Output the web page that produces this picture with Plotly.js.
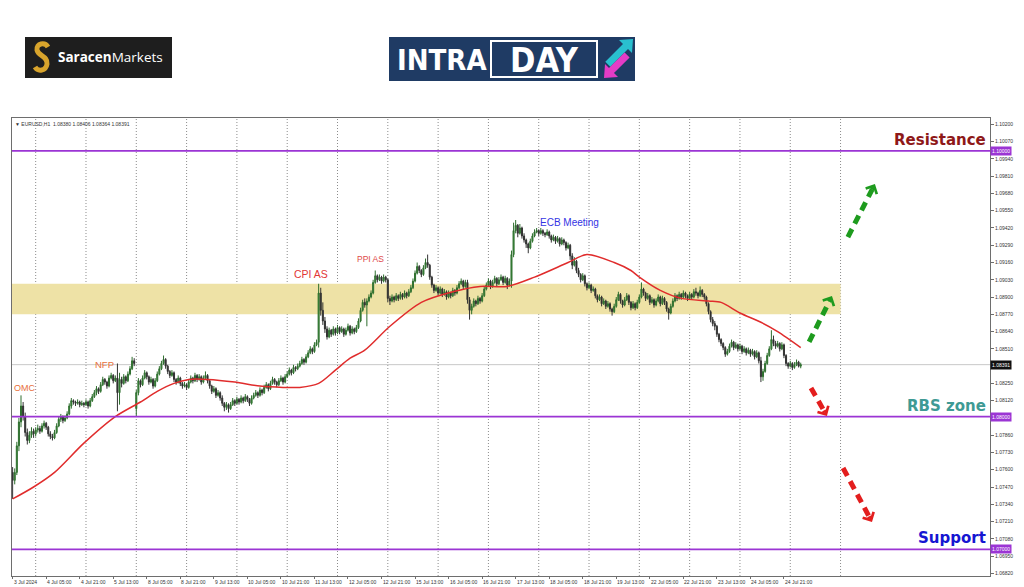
<!DOCTYPE html>
<html>
<head>
<meta charset="utf-8">
<script src="https://cdn.plot.ly/plotly-3.0.1.min.js"></script>
<style>html,body{margin:0;padding:0;background:#fff;}#chart{width:1024px;height:587px;}</style>
</head>
<body>
<div id="chart"></div>
<script>
// ---------- DATA (EURUSD H1) ----------
const OPEN = [
1.0758,1.0752,1.0758,1.0778,1.0796,1.0808,1.0800,1.0788,1.0782,1.0786,
1.0789,1.0787,1.0790,1.0791,1.0789,1.0793,1.0795,1.0792,1.0787,1.0785,
1.0784,1.0788,1.0793,1.0798,1.0800,1.0797,1.0799,1.0802,1.0808,1.0812,
1.0811,1.0810,1.0811,1.0809,1.0810,1.0809,1.0811,1.0808,1.0812,1.0815,
1.0818,1.0821,1.0819,1.0824,1.0828,1.0826,1.0823,1.0829,1.0831,1.0827,
1.0829,1.0818,1.0828,1.0825,1.0830,1.0827,1.0832,1.0836,1.0842,1.0806,
1.0818,1.0827,1.0824,1.0829,1.0833,1.0830,1.0826,1.0828,1.0823,1.0827,
1.0832,1.0836,1.0840,1.0843,1.0838,1.0834,1.0831,1.0833,1.0828,1.0826,
1.0829,1.0825,1.0823,1.0824,1.0822,1.0826,1.0829,1.0827,1.0831,1.0828,
1.0830,1.0826,1.0829,1.0831,1.0827,1.0823,1.0819,1.0821,1.0816,1.0818,
1.0814,1.0810,1.0807,1.0809,1.0806,1.0809,1.0812,1.0810,1.0813,1.0811,
1.0814,1.0812,1.0815,1.0813,1.0810,1.0814,1.0816,1.0818,1.0816,1.0820,
1.0818,1.0822,1.0824,1.0821,1.0825,1.0828,1.0826,1.0824,1.0827,1.0829,
1.0826,1.0830,1.0832,1.0835,1.0833,1.0837,1.0836,1.0838,1.0840,1.0843,
1.0841,1.0845,1.0848,1.0851,1.0849,1.0854,1.0856,1.0893,1.0880,1.0872,
1.0866,1.0860,1.0865,1.0862,1.0866,1.0863,1.0867,1.0864,1.0866,1.0862,
1.0865,1.0868,1.0863,1.0866,1.0864,1.0867,1.0872,1.0880,1.0886,1.0884,
1.0887,1.0890,1.0893,1.0901,1.0906,1.0903,1.0905,1.0902,1.0905,1.0903,
1.0889,1.0887,1.0890,1.0888,1.0891,1.0889,1.0892,1.0890,1.0893,1.0891,
1.0894,1.0897,1.0902,1.0908,1.0913,1.0910,1.0907,1.0912,1.0916,1.0914,
1.0905,1.0899,1.0895,1.0897,1.0893,1.0896,1.0892,1.0894,1.0890,1.0893,
1.0891,1.0895,1.0893,1.0897,1.0900,1.0902,1.0898,1.0901,1.0888,1.0880,
1.0883,1.0887,1.0885,1.0889,1.0887,1.0891,1.0896,1.0899,1.0902,1.0898,
1.0901,1.0904,1.0900,1.0903,1.0905,1.0901,1.0904,1.0899,1.0902,1.0922,
1.0940,1.0944,1.0938,1.0942,1.0936,1.0933,1.0930,1.0927,1.0932,1.0936,
1.0939,1.0940,1.0938,1.0940,1.0938,1.0937,1.0939,1.0936,1.0933,1.0935,
1.0932,1.0934,1.0930,1.0933,1.0931,1.0927,1.0929,1.0921,1.0914,1.0917,
1.0910,1.0907,1.0903,1.0906,1.0900,1.0897,1.0899,1.0895,1.0896,1.0891,
1.0888,1.0890,1.0885,1.0887,1.0883,1.0885,1.0881,1.0879,1.0883,1.0888,
1.0892,1.0887,1.0884,1.0888,1.0891,1.0886,1.0882,1.0885,1.0882,1.0886,
1.0890,1.0896,1.0893,1.0889,1.0891,1.0886,1.0888,1.0884,1.0887,1.0890,
1.0885,1.0889,1.0886,1.0881,1.0878,1.0883,1.0887,1.0891,1.0889,1.0892,
1.0890,1.0893,1.0891,1.0889,1.0892,1.0890,1.0894,1.0893,1.0891,1.0895,
1.0892,1.0890,1.0885,1.0879,1.0873,1.0870,1.0868,1.0862,1.0858,1.0855,
1.0852,1.0847,1.0849,1.0853,1.0856,1.0852,1.0854,1.0851,1.0853,1.0849,
1.0851,1.0848,1.0850,1.0847,1.0849,1.0845,1.0848,1.0842,1.0830,1.0834,
1.0840,1.0846,1.0851,1.0858,1.0855,1.0853,1.0855,1.0851,1.0854,1.0846,
1.0840,1.0838,1.0840,1.0837,1.0839,1.0841,1.0838];
const HIGH = [
1.0762,1.0761,1.0781,1.0799,1.0816,1.0811,1.0803,1.0791,1.0789,1.0792,
1.0791,1.0792,1.0794,1.0793,1.0795,1.0797,1.0796,1.0793,1.0789,1.0787,
1.0790,1.0795,1.0800,1.0802,1.0801,1.0801,1.0804,1.0810,1.0814,1.0813,
1.0812,1.0813,1.0812,1.0812,1.0811,1.0813,1.0812,1.0814,1.0817,1.0820,
1.0823,1.0822,1.0826,1.0830,1.0829,1.0827,1.0831,1.0833,1.0832,1.0831,
1.0840,1.0833,1.0830,1.0832,1.0831,1.0834,1.0838,1.0845,1.0844,1.0820,
1.0829,1.0828,1.0831,1.0835,1.0834,1.0831,1.0830,1.0829,1.0829,1.0834,
1.0838,1.0842,1.0846,1.0844,1.0839,1.0835,1.0835,1.0834,1.0829,1.0831,
1.0830,1.0826,1.0826,1.0825,1.0828,1.0831,1.0830,1.0833,1.0832,1.0832,
1.0831,1.0831,1.0834,1.0832,1.0828,1.0824,1.0823,1.0822,1.0820,1.0819,
1.0816,1.0811,1.0811,1.0810,1.0811,1.0814,1.0813,1.0815,1.0814,1.0816,
1.0815,1.0817,1.0816,1.0814,1.0816,1.0818,1.0820,1.0819,1.0822,1.0821,
1.0824,1.0826,1.0825,1.0827,1.0830,1.0829,1.0827,1.0829,1.0831,1.0830,
1.0832,1.0834,1.0837,1.0836,1.0839,1.0838,1.0840,1.0842,1.0845,1.0844,
1.0847,1.0850,1.0853,1.0852,1.0856,1.0858,1.0900,1.0897,1.0886,1.0875,
1.0868,1.0867,1.0866,1.0868,1.0867,1.0869,1.0868,1.0868,1.0867,1.0867,
1.0870,1.0869,1.0868,1.0867,1.0869,1.0874,1.0882,1.0888,1.0889,1.0889,
1.0892,1.0895,1.0903,1.0910,1.0907,1.0907,1.0906,1.0907,1.0906,1.0904,
1.0891,1.0892,1.0891,1.0893,1.0892,1.0894,1.0893,1.0895,1.0894,1.0896,
1.0899,1.0904,1.0910,1.0916,1.0914,1.0911,1.0914,1.0919,1.0922,1.0915,
1.0906,1.0900,1.0899,1.0898,1.0898,1.0897,1.0896,1.0895,1.0895,1.0894,
1.0897,1.0896,1.0899,1.0902,1.0904,1.0903,1.0903,1.0903,1.0890,1.0885,
1.0889,1.0888,1.0891,1.0890,1.0893,1.0898,1.0901,1.0904,1.0903,1.0903,
1.0906,1.0905,1.0905,1.0907,1.0906,1.0906,1.0905,1.0904,1.0925,1.0946,
1.0948,1.0945,1.0945,1.0943,1.0938,1.0934,1.0931,1.0934,1.0938,1.0941,
1.0942,1.0941,1.0942,1.0941,1.0939,1.0941,1.0940,1.0937,1.0937,1.0936,
1.0936,1.0935,1.0935,1.0934,1.0932,1.0931,1.0930,1.0923,1.0920,1.0918,
1.0912,1.0908,1.0908,1.0907,1.0901,1.0901,1.0900,1.0898,1.0897,1.0892,
1.0892,1.0891,1.0889,1.0888,1.0887,1.0886,1.0882,1.0885,1.0890,1.0894,
1.0893,1.0888,1.0890,1.0893,1.0892,1.0887,1.0887,1.0886,1.0888,1.0892,
1.0901,1.0897,1.0894,1.0893,1.0892,1.0890,1.0889,1.0889,1.0892,1.0891,
1.0891,1.0890,1.0887,1.0882,1.0885,1.0889,1.0893,1.0892,1.0894,1.0893,
1.0895,1.0894,1.0892,1.0894,1.0893,1.0896,1.0897,1.0894,1.0898,1.0896,
1.0893,1.0891,1.0886,1.0880,1.0875,1.0872,1.0869,1.0863,1.0859,1.0856,
1.0853,1.0851,1.0855,1.0858,1.0857,1.0856,1.0855,1.0855,1.0854,1.0853,
1.0852,1.0852,1.0851,1.0851,1.0850,1.0850,1.0849,1.0845,1.0836,1.0842,
1.0848,1.0853,1.0865,1.0861,1.0857,1.0857,1.0856,1.0856,1.0855,1.0847,
1.0841,1.0842,1.0841,1.0841,1.0843,1.0842,1.08406];
const LOW = [
1.0738,1.0749,1.0756,1.0774,1.0792,1.0797,1.0785,1.0779,1.0780,1.0784,
1.0784,1.0785,1.0788,1.0787,1.0788,1.0791,1.0790,1.0785,1.0783,1.0782,
1.0783,1.0787,1.0792,1.0796,1.0795,1.0796,1.0798,1.0801,1.0806,1.0809,
1.0808,1.0809,1.0807,1.0808,1.0807,1.0808,1.0806,1.0807,1.0811,1.0814,
1.0816,1.0817,1.0818,1.0823,1.0824,1.0821,1.0822,1.0828,1.0825,1.0826,
1.0804,1.0809,1.0822,1.0824,1.0825,1.0826,1.0831,1.0835,1.0838,1.0800,
1.0816,1.0822,1.0823,1.0828,1.0828,1.0824,1.0825,1.0821,1.0822,1.0826,
1.0831,1.0835,1.0839,1.0836,1.0832,1.0829,1.0830,1.0826,1.0824,1.0825,
1.0823,1.0821,1.0822,1.0820,1.0821,1.0825,1.0825,1.0826,1.0826,1.0827,
1.0824,1.0825,1.0828,1.0825,1.0821,1.0817,1.0818,1.0814,1.0815,1.0812,
1.0808,1.0804,1.0805,1.0803,1.0805,1.0808,1.0808,1.0809,1.0809,1.0810,
1.0810,1.0811,1.0811,1.0808,1.0809,1.0813,1.0815,1.0814,1.0815,1.0816,
1.0817,1.0821,1.0819,1.0820,1.0824,1.0824,1.0822,1.0823,1.0826,1.0824,
1.0825,1.0829,1.0831,1.0831,1.0832,1.0834,1.0835,1.0837,1.0839,1.0839,
1.0840,1.0844,1.0847,1.0847,1.0848,1.0853,1.0852,1.0876,1.0869,1.0863,
1.0858,1.0859,1.0860,1.0861,1.0861,1.0862,1.0862,1.0863,1.0860,1.0861,
1.0864,1.0861,1.0862,1.0862,1.0863,1.0866,1.0871,1.0879,1.0882,1.0868,
1.0886,1.0889,1.0892,1.0900,1.0901,1.0902,1.0900,1.0901,1.0901,1.0886,
1.0884,1.0886,1.0886,1.0887,1.0887,1.0888,1.0888,1.0889,1.0889,1.0890,
1.0893,1.0896,1.0901,1.0907,1.0908,1.0905,1.0906,1.0911,1.0912,1.0903,
1.0897,1.0893,1.0894,1.0891,1.0892,1.0890,1.0891,1.0888,1.0889,1.0889,
1.0890,1.0891,1.0892,1.0896,1.0899,1.0896,1.0897,1.0885,1.0873,1.0877,
1.0882,1.0883,1.0884,1.0885,1.0886,1.0890,1.0895,1.0898,1.0896,1.0897,
1.0900,1.0898,1.0899,1.0902,1.0899,1.0900,1.0896,1.0898,1.0897,1.0920,
1.0938,1.0935,1.0937,1.0934,1.0931,1.0927,1.0923,1.0926,1.0931,1.0935,
1.0938,1.0936,1.0937,1.0936,1.0935,1.0936,1.0934,1.0931,1.0932,1.0930,
1.0931,1.0928,1.0929,1.0929,1.0925,1.0926,1.0918,1.0911,1.0913,1.0908,
1.0905,1.0901,1.0902,1.0898,1.0895,1.0896,1.0893,1.0894,1.0889,1.0886,
1.0887,1.0883,1.0884,1.0881,1.0882,1.0879,1.0876,1.0878,1.0882,1.0887,
1.0885,1.0882,1.0883,1.0887,1.0884,1.0880,1.0881,1.0880,1.0881,1.0885,
1.0889,1.0891,1.0887,1.0888,1.0884,1.0885,1.0882,1.0883,1.0886,1.0883,
1.0884,1.0884,1.0879,1.0873,1.0877,1.0882,1.0886,1.0887,1.0888,1.0888,
1.0889,1.0889,1.0887,1.0888,1.0888,1.0889,1.0891,1.0889,1.0890,1.0890,
1.0888,1.0883,1.0877,1.0871,1.0868,1.0865,1.0860,1.0856,1.0853,1.0850,
1.0845,1.0846,1.0848,1.0852,1.0850,1.0851,1.0849,1.0850,1.0847,1.0848,
1.0846,1.0847,1.0845,1.0846,1.0843,1.0844,1.0840,1.0826,1.0827,1.0833,
1.0839,1.0845,1.0850,1.0853,1.0851,1.0852,1.0849,1.0850,1.0844,1.0838,
1.0836,1.0837,1.0835,1.0836,1.0838,1.0837,1.08364];
const CLOSE = [
1.0752,1.0758,1.0778,1.0796,1.0808,1.0800,1.0788,1.0782,1.0786,1.0789,
1.0787,1.0790,1.0791,1.0789,1.0793,1.0795,1.0792,1.0787,1.0785,1.0784,
1.0788,1.0793,1.0798,1.0800,1.0797,1.0799,1.0802,1.0808,1.0812,1.0811,
1.0810,1.0811,1.0809,1.0810,1.0809,1.0811,1.0808,1.0812,1.0815,1.0818,
1.0821,1.0819,1.0824,1.0828,1.0826,1.0823,1.0829,1.0831,1.0827,1.0829,
1.0818,1.0828,1.0825,1.0830,1.0827,1.0832,1.0836,1.0842,1.0840,1.0818,
1.0827,1.0824,1.0829,1.0833,1.0830,1.0826,1.0828,1.0823,1.0827,1.0832,
1.0836,1.0840,1.0843,1.0838,1.0834,1.0831,1.0833,1.0828,1.0826,1.0829,
1.0825,1.0823,1.0824,1.0822,1.0826,1.0829,1.0827,1.0831,1.0828,1.0830,
1.0826,1.0829,1.0831,1.0827,1.0823,1.0819,1.0821,1.0816,1.0818,1.0814,
1.0810,1.0807,1.0809,1.0806,1.0809,1.0812,1.0810,1.0813,1.0811,1.0814,
1.0812,1.0815,1.0813,1.0810,1.0814,1.0816,1.0818,1.0816,1.0820,1.0818,
1.0822,1.0824,1.0821,1.0825,1.0828,1.0826,1.0824,1.0827,1.0829,1.0826,
1.0830,1.0832,1.0835,1.0833,1.0837,1.0836,1.0838,1.0840,1.0843,1.0841,
1.0845,1.0848,1.0851,1.0849,1.0854,1.0856,1.0893,1.0880,1.0872,1.0866,
1.0860,1.0865,1.0862,1.0866,1.0863,1.0867,1.0864,1.0866,1.0862,1.0865,
1.0868,1.0863,1.0866,1.0864,1.0867,1.0872,1.0880,1.0886,1.0884,1.0887,
1.0890,1.0893,1.0901,1.0906,1.0903,1.0905,1.0902,1.0905,1.0903,1.0889,
1.0887,1.0890,1.0888,1.0891,1.0889,1.0892,1.0890,1.0893,1.0891,1.0894,
1.0897,1.0902,1.0908,1.0913,1.0910,1.0907,1.0912,1.0916,1.0914,1.0905,
1.0899,1.0895,1.0897,1.0893,1.0896,1.0892,1.0894,1.0890,1.0893,1.0891,
1.0895,1.0893,1.0897,1.0900,1.0902,1.0898,1.0901,1.0888,1.0880,1.0883,
1.0887,1.0885,1.0889,1.0887,1.0891,1.0896,1.0899,1.0902,1.0898,1.0901,
1.0904,1.0900,1.0903,1.0905,1.0901,1.0904,1.0899,1.0902,1.0922,1.0940,
1.0944,1.0938,1.0942,1.0936,1.0933,1.0930,1.0927,1.0932,1.0936,1.0939,
1.0940,1.0938,1.0940,1.0938,1.0937,1.0939,1.0936,1.0933,1.0935,1.0932,
1.0934,1.0930,1.0933,1.0931,1.0927,1.0929,1.0921,1.0914,1.0917,1.0910,
1.0907,1.0903,1.0906,1.0900,1.0897,1.0899,1.0895,1.0896,1.0891,1.0888,
1.0890,1.0885,1.0887,1.0883,1.0885,1.0881,1.0879,1.0883,1.0888,1.0892,
1.0887,1.0884,1.0888,1.0891,1.0886,1.0882,1.0885,1.0882,1.0886,1.0890,
1.0896,1.0893,1.0889,1.0891,1.0886,1.0888,1.0884,1.0887,1.0890,1.0885,
1.0889,1.0886,1.0881,1.0878,1.0883,1.0887,1.0891,1.0889,1.0892,1.0890,
1.0893,1.0891,1.0889,1.0892,1.0890,1.0894,1.0893,1.0891,1.0895,1.0892,
1.0890,1.0885,1.0879,1.0873,1.0870,1.0868,1.0862,1.0858,1.0855,1.0852,
1.0847,1.0849,1.0853,1.0856,1.0852,1.0854,1.0851,1.0853,1.0849,1.0851,
1.0848,1.0850,1.0847,1.0849,1.0845,1.0848,1.0842,1.0830,1.0834,1.0840,
1.0846,1.0851,1.0858,1.0855,1.0853,1.0855,1.0851,1.0854,1.0846,1.0840,
1.0838,1.0840,1.0837,1.0839,1.0841,1.0838,1.08391];

// red moving average, read at bar positions
const MA_IDX = [0,10,20,34,49,61,69,77,84,93,106,118,129,137,146,154,161,168,180,195,210,223,236,249,265,274,287,295,299,309,319,332,338,347,357,365,376];
const MA_VAL = [1.0738,1.0747,1.0758,1.0780,1.0800,1.0811,1.0819,1.0825,1.0828,1.0828,1.0826,1.0823,1.0822,1.0822,1.0825,1.0835,1.0844,1.0850,1.0868,1.0886,1.0894,1.0898,1.0898,1.0905,1.0916,1.0922,1.0916,1.0910,1.0905,1.0895,1.0889,1.0887,1.0886,1.0878,1.0871,1.0864,1.0852];

// time axis labels (bar index -> label)
const X_LABEL_IDX = [0,16,32,48,64,80,96,112,128,144,160,176,192,208,224,240,256,272,288,304,320,336,352,368];
const X_LABEL_TEXT = ['3 Jul 2024','4 Jul 05:00','4 Jul 21:00','5 Jul 13:00','8 Jul 05:00','8 Jul 21:00','9 Jul 13:00','10 Jul 05:00','10 Jul 21:00','11 Jul 13:00','12 Jul 05:00','12 Jul 21:00','15 Jul 13:00','16 Jul 05:00','16 Jul 21:00','17 Jul 13:00','18 Jul 05:00','18 Jul 21:00','19 Jul 13:00','22 Jul 05:00','22 Jul 21:00','23 Jul 13:00','24 Jul 05:00','24 Jul 21:00'];
const DAY_START_IDX = [11,35,59,83,107,131,155,179,203,227,251,275,299,323,347,371,395];

// price axis labels
const Y_TICKS = [1.06820,1.06950,1.07080,1.07210,1.07340,1.07470,1.07600,1.07730,1.07860,1.08120,1.08250,1.08510,1.08640,1.08770,1.08900,1.09030,1.09160,1.09290,1.09420,1.09550,1.09680,1.09810,1.09940,1.10070,1.10200];

// levels
const LEVEL_VALUES = [1.10000, 1.08000, 1.07000];
const LEVEL_NAMES = ['Resistance', 'RBS zone', 'Support'];
const LEVEL_COLORS = ['#8E1818', '#3E9A94', '#1616D2'];
const ZONE_LOW = 1.0877, ZONE_HIGH = 1.0900;

// event labels
const EVENT_TEXT = ['OMC', 'NFP', 'CPI AS', 'PPI AS', 'ECB Meeting'];
const EVENT_IDX = [-0.3, 43.6, 142.4, 170.5, 265.5];
const EVENT_PRICE = [1.08215, 1.08389, 1.09074, 1.09186, 1.09465];
const EVENT_COLOR = ['#E8703A', '#E8703A', '#E23636', '#E04848', '#3434E4'];
const EVENT_SIZE = [9, 9.5, 10.5, 8.5, 10];

// scenario arrows (bar index / price of tail and tip)
const ARROW_X0 = [398.5, 380.0, 380.9, 396.2];
const ARROW_Y0 = [1.09352, 1.08562, 1.08215, 1.07613];
const ARROW_X1 = [411.4, 390.9, 388.5, 410.0];
const ARROW_Y1 = [1.09751, 1.08908, 1.08005, 1.07207];
const ARROW_COLOR = ['#1E9B1E', '#1E9B1E', '#E31E1E', '#E31E1E'];

// ---------- CHART ----------
const X_RANGE = [-0.3, 466.3];
const Y_RANGE = [1.06800, 1.10248];
const M = {l: 12, r: 34, t: 118, b: 11};
const PW = 1024 - M.l - M.r, PH = 587 - M.t - M.b;
const pxPerBar = PW / (X_RANGE[1] - X_RANGE[0]);
const pxPerPrice = PH / (Y_RANGE[1] - Y_RANGE[0]);
const px = x => (x - M.l) / PW;           // page pixel -> paper
const py = y => (M.t + PH - y) / PH;

const idx = CLOSE.map((_, i) => i);
const n = CLOSE.length - 1;

const traces = [
  {
    type: 'candlestick', x: idx, open: OPEN, high: HIGH, low: LOW, close: CLOSE,
    increasing: {line: {color: '#2E6E2E', width: 1}, fillcolor: '#3E9A3E'},
    decreasing: {line: {color: '#333333', width: 1}, fillcolor: '#1C1C1C'},
    whiskerwidth: 0, hoverinfo: 'skip', showlegend: false
  },
  {
    type: 'scatter', mode: 'lines', x: MA_IDX, y: MA_VAL,
    line: {color: '#E02C2C', width: 1.5, shape: 'spline', smoothing: 0.8},
    hoverinfo: 'skip', showlegend: false
  }
];

const shapes = [];
// supply/demand zone
shapes.push({type: 'rect', xref: 'x', yref: 'y', x0: X_RANGE[0], x1: DAY_START_IDX[DAY_START_IDX.length - 1],
  y0: ZONE_LOW, y1: ZONE_HIGH, fillcolor: '#EEE2A6', line: {width: 0}, layer: 'below'});
// day separators
DAY_START_IDX.forEach(d => shapes.push({type: 'line', xref: 'x', yref: 'paper', x0: d, x1: d, y0: 0, y1: 1,
  line: {color: '#8C8C8C', width: 1, dash: '1px,2px'}, layer: 'below'}));
// current price line
shapes.push({type: 'line', xref: 'paper', yref: 'y', x0: 0, x1: 1, y0: CLOSE[n], y1: CLOSE[n],
  line: {color: '#C8C8C8', width: 1}, layer: 'below'});
// key levels
LEVEL_VALUES.forEach(v => shapes.push({type: 'line', xref: 'paper', yref: 'y', x0: 0, x1: 1, y0: v, y1: v,
  line: {color: '#9B35D4', width: 1.8}, layer: 'above'}));

const annotations = [];
// arrows: dashed body + chevron head
ARROW_X0.forEach((x0, k) => {
  const dxp = (ARROW_X1[k] - x0) * pxPerBar, dyp = (ARROW_Y1[k] - ARROW_Y0[k]) * pxPerPrice;
  const len = Math.hypot(dxp, dyp), f = 1 - 6 / len;
  shapes.push({type: 'line', xref: 'x', yref: 'y', x0: x0, y0: ARROW_Y0[k],
    x1: x0 + (ARROW_X1[k] - x0) * f, y1: ARROW_Y0[k] + (ARROW_Y1[k] - ARROW_Y0[k]) * f,
    line: {color: ARROW_COLOR[k], width: 5, dash: '9px,6px'}, layer: 'above'});
  annotations.push({xref: 'x', yref: 'y', x: ARROW_X1[k], y: ARROW_Y1[k], text: '', showarrow: true,
    arrowhead: 4, arrowsize: 0.6, arrowwidth: 4, arrowcolor: ARROW_COLOR[k],
    ax: -dxp / len * 8, ay: dyp / len * 8, standoff: 0});
});

// level names
LEVEL_VALUES.forEach((v, k) => annotations.push({xref: 'paper', yref: 'y', x: px(988), y: v,
  xanchor: 'right', yanchor: 'bottom', showarrow: false, text: '<b>' + LEVEL_NAMES[k] + '</b>',
  font: {family: 'DejaVu Sans', size: 15, color: LEVEL_COLORS[k]}}));

// event labels
EVENT_TEXT.forEach((t, k) => annotations.push({xref: 'x', yref: 'y', x: EVENT_IDX[k], y: EVENT_PRICE[k],
  xanchor: k === 0 ? 'left' : 'center', yanchor: 'middle', showarrow: false, text: t,
  font: {family: 'Liberation Sans, Arial, sans-serif', size: EVENT_SIZE[k], color: EVENT_COLOR[k]}}));

// time labels (left aligned at tick like MT4)
X_LABEL_IDX.forEach((i, k) => annotations.push({xref: 'x', yref: 'paper', x: i, y: 0, xanchor: 'left',
  yanchor: 'top', yshift: -1, xshift: -1, showarrow: false, text: X_LABEL_TEXT[k],
  font: {family: 'Liberation Sans, Arial, sans-serif', size: 5, color: '#333'}}));

// price boxes on the right axis
const boxVals = LEVEL_VALUES.concat([CLOSE[n]]);
const boxCols = ['#9B35D4', '#9B35D4', '#9B35D4', '#111111'];
boxVals.forEach((v, k) => annotations.push({xref: 'paper', yref: 'y', x: 1, y: v, xanchor: 'left',
  yanchor: 'middle', xshift: 0, showarrow: false, text: v.toFixed(5), bgcolor: boxCols[k], borderpad: 1,
  font: {family: 'Liberation Sans, Arial, sans-serif', size: 5, color: '#FFFFFF'}}));

// header line
annotations.push({xref: 'paper', yref: 'paper', x: 0, y: 1, xanchor: 'left', yanchor: 'top', xshift: 1, yshift: -1,
  showarrow: false,
  text: '\u25BC EURUSD,H1  ' + [OPEN[n], HIGH[n], LOW[n], CLOSE[n]].map(v => v.toFixed(5)).join(' '),
  font: {family: 'Liberation Sans, Arial, sans-serif', size: 5, color: '#333'}});

// ---------- logos ----------
shapes.push({type: 'rect', xref: 'paper', yref: 'paper', x0: px(25), x1: px(172), y0: py(78), y1: py(37),
  fillcolor: '#1E1E1E', line: {width: 0}});
const sPts = 'M ' + px(48) + ',' + py(47) + ' C ' + px(45) + ',' + py(42) + ' ' + px(36) + ',' + py(43) + ' ' + px(37) + ',' + py(50) +
  ' C ' + px(38) + ',' + py(56) + ' ' + px(48) + ',' + py(56) + ' ' + px(47) + ',' + py(64) +
  ' C ' + px(46) + ',' + py(71) + ' ' + px(38) + ',' + py(72) + ' ' + px(35) + ',' + py(67);
shapes.push({type: 'path', xref: 'paper', yref: 'paper', path: sPts, fillcolor: 'rgba(0,0,0,0)',
  line: {color: '#D8A42C', width: 5}});
annotations.push({xref: 'paper', yref: 'paper', x: px(56), y: py(57.5), xanchor: 'left', yanchor: 'middle',
  showarrow: false, text: '<b>Saracen</b>Markets', font: {family: 'Open Sans', size: 13.5, color: '#FFFFFF'}});

shapes.push({type: 'rect', xref: 'paper', yref: 'paper', x0: px(389), x1: px(635), y0: py(81), y1: py(37),
  fillcolor: '#1F3B64', line: {width: 0}});
shapes.push({type: 'rect', xref: 'paper', yref: 'paper', x0: px(491), x1: px(597), y0: py(77), y1: py(41),
  fillcolor: '#1F3B64', line: {color: '#FFFFFF', width: 2}});
annotations.push({xref: 'paper', yref: 'paper', x: px(395), y: py(59.5), xanchor: 'left', yanchor: 'middle',
  showarrow: false, text: '<b>INTRA</b>', font: {family: 'DejaVu Sans Condensed, sans-serif', size: 29, color: '#FFFFFF'}});
annotations.push({xref: 'paper', yref: 'paper', x: px(544), y: py(59.5), xanchor: 'center', yanchor: 'middle',
  showarrow: false, text: '<b>DAY</b>', font: {family: 'DejaVu Sans Condensed, sans-serif', size: 34, color: '#FFFFFF'}});
const poly = pts => 'M ' + pts.map(p => px(p[0]) + ',' + py(p[1])).join(' L ') + ' Z';
shapes.push({type: 'path', xref: 'paper', yref: 'paper', line: {width: 0}, fillcolor: '#29C0CF',
  path: poly([[633,39],[632,53],[628,49],[610.3,66.7],[605.3,61.7],[623,44],[619,40]])});
shapes.push({type: 'path', xref: 'paper', yref: 'paper', line: {width: 0}, fillcolor: '#E43CC6',
  path: poly([[604,78],[605,64],[609,68],[624.6,52.4],[629.6,57.4],[614,73],[618,77]])});

const layout = {
  width: 1024, height: 587, margin: M, paper_bgcolor: '#FFFFFF', plot_bgcolor: '#FFFFFF', showlegend: false,
  xaxis: {range: X_RANGE, showgrid: false, zeroline: false, showline: true, linecolor: '#6E6E6E', linewidth: 1,
    mirror: true, ticks: 'outside', ticklen: 2, tickcolor: '#6E6E6E', tickvals: X_LABEL_IDX, showticklabels: false,
    rangeslider: {visible: false}, fixedrange: true},
  yaxis: {range: Y_RANGE, side: 'right', showgrid: false, zeroline: false, showline: true, linecolor: '#6E6E6E',
    linewidth: 1, mirror: true, ticks: 'outside', ticklen: 3, tickcolor: '#6E6E6E', tickvals: Y_TICKS,
    ticktext: Y_TICKS.map(v => v.toFixed(5)), tickfont: {family: 'Liberation Sans, Arial, sans-serif', size: 5, color: '#333'},
    fixedrange: true},
  shapes: shapes, annotations: annotations
};

Plotly.newPlot('chart', traces, layout, {staticPlot: true, displayModeBar: false});
</script>
</body>
</html>
